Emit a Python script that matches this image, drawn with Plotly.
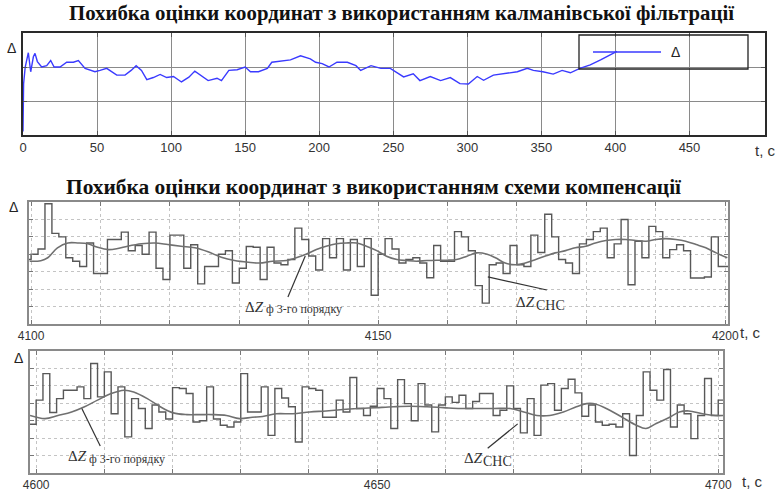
import plotly.graph_objects as go

# ---------------- data ----------------
kalman_t = [0, 0.4, 1.5, 3.6, 5.2, 7.0, 8.1, 9.7, 12.6, 16, 18.7, 21, 25, 29.5, 34, 37.4, 41.9, 48.6,
            52, 56.5, 63.3, 68.9, 73, 76.4, 80, 83.6, 88, 92.6, 97, 101.6, 107, 112, 116, 119.6,
            125, 131, 134, 139, 144.6, 150, 153.6, 159, 165, 168, 175, 180.6, 187.4, 194, 197.6,
            202, 206.6, 212, 219, 224.8, 228, 235, 241.6, 248, 257, 263.5, 268, 275, 282, 288.5,
            295, 300.7, 306.7, 311, 317.6, 327, 333.8, 340.5, 344.6, 351, 358, 364, 369.6, 376,
            383, 390, 396.6, 401]
kalman_err = [0.1, 1.5, 2.0, 2.42, 1.86, 2.3, 2.4, 2.16, 2.0, 2.04, 2.19, 2.0, 2.0, 2.14, 2.14, 2.19,
              1.96, 1.86, 1.9, 1.96, 1.76, 1.76, 1.9, 2.04, 1.9, 1.63, 1.69, 1.78, 1.69, 1.72, 1.56,
              1.7, 1.88, 1.76, 1.6, 1.67, 1.6, 1.9, 1.92, 2.0, 1.86, 1.86, 1.96, 2.14, 2.17, 2.21,
              2.33, 2.24, 2.14, 2.1, 2.0, 2.14, 2.14, 2.04, 1.9, 2.04, 1.96, 1.96, 1.71, 1.8, 1.6,
              1.72, 1.6, 1.69, 1.51, 1.5, 1.72, 1.61, 1.76, 1.81, 1.86, 1.96, 1.9, 1.86, 1.79, 1.9,
              1.83, 1.96, 2.06, 2.21, 2.36, 2.46]

mid_start = 4099
mid_steps = [3.7, 4.0, 4.3, 6.9, 5.2, 5.0, 3.8, 3.6, 3.3, 4.65, 2.9,
             2.9, 4.85, 4.85, 5.27, 4.2, 4.5, 4.0, 5.27, 3.2, 2.55,
             5.1, 5.1, 3.2, 4.55, 2.3, 3.3, 3.3, 4.0, 4.2, 2.35,
             3.2, 4.45, 4.4, 2.55, 4.4, 3.5, 3.4, 3.7, 5.5, 4.85,
             3.9, 3.1, 4.9, 3.8, 4.9, 3.1, 4.85, 3.3, 4.9, 1.65,
             4.0, 4.9, 4.3, 3.5, 3.7, 3.8, 3.5, 2.65, 4.5, 3.6,
             3.6, 5.3, 5.0, 4.2, 2.2, 1.2, 3.4, 3.5, 2.9, 4.5,
             3.4, 3.3, 5.1, 4.1, 6.3, 5.0, 3.7, 3.5, 2.9, 4.6,
             4.85, 5.3, 5.5, 3.8, 4.6, 6.0, 2.25, 4.75, 3.8, 5.6,
             5.3, 3.8, 4.27, 4.55, 4.2, 2.64, 2.64, 2.7, 5.0, 3.3]
mid_smooth_t = [4099.8, 4101.4, 4102.4, 4103.8, 4105.3, 4106.7, 4108.2, 4109.6, 4111.1, 4112.5,
                4113.9, 4115.9, 4117.8, 4119.7, 4121.6, 4123.6, 4125.5, 4127.4, 4129.3, 4131.3,
                4132.9, 4134.8, 4136.8, 4138.2, 4139.6, 4141.1, 4142.5, 4144.0, 4145.4, 4146.9,
                4148.3, 4149.8, 4151.2, 4152.7, 4154.1, 4155.5, 4157.0, 4158.4, 4159.9, 4161.3,
                4162.8, 4164.2, 4165.7, 4166.9, 4168.3, 4169.8, 4171.2, 4172.7, 4174.1, 4175.5,
                4177.0, 4178.4, 4179.9, 4181.3, 4182.8, 4184.2, 4185.7, 4187.1, 4188.6, 4190.0,
                4191.4, 4192.9, 4194.3, 4195.8, 4197.2, 4198.7, 4200.3]
mid_smooth_v = [3.6, 3.63, 3.8, 4.37, 4.65, 4.65, 4.6, 4.4, 4.27, 4.33,
                4.46, 4.6, 4.65, 4.56, 4.46, 4.37, 4.14, 3.83, 3.64, 3.54,
                3.5, 3.6, 3.64, 3.8, 4.0, 4.27, 4.46, 4.6, 4.65, 4.65,
                4.46, 4.21, 3.89, 3.7, 3.64, 3.6, 3.64, 3.66, 3.66, 3.7,
                3.89, 4.08, 4.0, 3.8, 3.5, 3.4, 3.5, 3.7, 3.9, 4.08,
                4.21, 4.37, 4.46, 4.65, 4.79, 4.85, 4.85, 4.79, 4.75, 4.85,
                4.9, 4.85, 4.75, 4.56, 4.37, 4.08, 3.8]

bot_start = 4599
bot_steps = [2.8, 4.18, 5.7, 3.47, 4.27, 4.75, 4.75, 4.94, 4.27, 6.28, 4.37,
             5.8, 3.4, 4.94, 2.07, 4.27, 3.7, 2.55, 3.9, 3.5, 3.1,
             4.9, 4.85, 4.56, 2.93, 3.0, 4.94, 3.1, 2.74, 2.64, 2.93,
             5.7, 3.5, 3.5, 4.94, 2.16, 4.85, 4.3, 3.8, 1.78, 4.94,
             4.85, 4.75, 3.2, 3.2, 4.18, 3.5, 5.48, 3.7, 3.3, 3.83,
             4.85, 4.27, 2.55, 5.36, 3.98, 3.0, 5.13, 3.9, 2.36, 3.9,
             4.37, 4.05, 4.46, 3.7, 4.1, 4.56, 4.56, 3.3, 3.6, 5.0,
             3.7, 2.3, 4.27, 2.16, 5.04, 5.13, 3.6, 4.85, 5.38, 4.6,
             3.26, 3.9, 2.93, 2.74, 2.8, 2.64, 3.4, 1.0, 3.3, 5.8,
             4.75, 4.18, 5.94, 2.64, 3.9, 3.4, 1.97, 3.3, 5.42, 3.3, 4.18]
bot_smooth_t = [4599.1, 4601.3, 4603.2, 4605.2, 4607.1, 4609.0, 4611.0, 4612.9, 4614.3, 4616.3,
                4618.2, 4620.1, 4622.1, 4624.0, 4625.9, 4627.9, 4629.8, 4631.7, 4633.2, 4635.2,
                4637.6, 4640.1, 4642.5, 4645.0, 4647.5, 4649.9, 4652.4, 4654.8, 4657.3, 4659.7,
                4662.2, 4664.6, 4667.1, 4669.5, 4671.5, 4673.4, 4675.3, 4677.3, 4679.2, 4680.7,
                4682.1, 4684.1, 4686.0, 4688.0, 4689.4, 4690.9, 4692.8, 4694.3, 4695.7, 4697.7,
                4699.6, 4700.7]
bot_smooth_v = [3.3, 3.12, 3.3, 3.5, 3.8, 4.18, 4.56, 4.75, 4.65, 4.27,
                3.8, 3.45, 3.35, 3.35, 3.35, 3.3, 3.12, 3.2, 3.24, 3.4,
                3.4, 3.5, 3.56, 3.64, 3.7, 3.75, 3.8, 3.83, 3.8, 3.75,
                3.7, 3.7, 3.7, 3.7, 3.5, 3.3, 3.3, 3.5, 3.8, 3.98,
                3.95, 3.6, 3.18, 2.74, 2.55, 2.84, 3.18, 3.5, 3.56, 3.4,
                3.3, 3.3]

top_ticks = [0, 50, 100, 150, 200, 250, 300, 350, 400, 450]
mid_ticks = list(range(4100, 4201, 10))
mid_labels = ["4100" if t == 4100 else "4150" if t == 4150 else "4200" if t == 4200 else "" for t in mid_ticks]
bot_ticks = list(range(4600, 4701, 10))
bot_labels = ["4600" if t == 4600 else "4650" if t == 4650 else "4700" if t == 4700 else "" for t in bot_ticks]

title_top = "Похибка оцінки координат з використанням калманівської фільтрації"
title_bot = "Похибка оцінки координат з використанням схеми компенсації"

# ---------------- layout helpers ----------------
W, H = 782, 494
def px(x):
    return x / W
def py(y):
    return 1 - y / H

top_range = [0, 501]
mid_range = [4099.7, 4200.4]
bot_range = [4599.1, 4700.7]

fig = go.Figure()

fig.add_trace(go.Scatter(x=kalman_t, y=kalman_err, mode="lines",
                         line=dict(color="#3a3aff", width=1.4), xaxis="x", yaxis="y",
                         showlegend=False, name="Δ"))

mid_x = [mid_start + i for i in range(len(mid_steps))] + [mid_range[1]]
mid_y = mid_steps + [mid_steps[-1]]
fig.add_trace(go.Scatter(x=mid_x, y=mid_y, mode="lines", line_shape="hv",
                         line=dict(color="#585858", width=1.4), xaxis="x2", yaxis="y2",
                         showlegend=False))
fig.add_trace(go.Scatter(x=mid_smooth_t, y=mid_smooth_v, mode="lines", line_shape="spline",
                         line=dict(color="#707070", width=1.6), xaxis="x2", yaxis="y2",
                         showlegend=False))

bot_x = [bot_start + i for i in range(len(bot_steps))] + [bot_range[1]]
bot_y = bot_steps + [bot_steps[-1]]
fig.add_trace(go.Scatter(x=bot_x, y=bot_y, mode="lines", line_shape="hv",
                         line=dict(color="#585858", width=1.4), xaxis="x3", yaxis="y3",
                         showlegend=False))
fig.add_trace(go.Scatter(x=bot_smooth_t, y=bot_smooth_v, mode="lines", line_shape="spline",
                         line=dict(color="#707070", width=1.6), xaxis="x3", yaxis="y3",
                         showlegend=False))

tickfont = dict(family="Arial, Liberation Sans", size=13, color="#333333")
tickfont2 = dict(family="Arial, Liberation Sans", size=12, color="#333333")

common_top = dict(showline=True, mirror="allticks", linecolor="#2a2a2a", linewidth=1.5,
                  showgrid=True, gridcolor="#8a8a8a", gridwidth=1, zeroline=False,
                  ticks="inside", ticklen=4, tickcolor="#555555", automargin=False)
common_low = dict(showline=True, mirror="allticks", linecolor="#8a8a8a", linewidth=1.5,
                  showgrid=True, gridcolor="#c4c4c4", gridwidth=1, griddash="dot",
                  zeroline=False, ticks="inside", ticklen=4, tickcolor="#777777",
                  automargin=False)

fig.update_layout(
    width=W, height=H, margin=dict(l=0, r=0, t=0, b=0, autoexpand=False),
    paper_bgcolor="white", plot_bgcolor="white", showlegend=False,
    xaxis=dict(domain=[px(23), px(765)], range=top_range, tickvals=top_ticks,
               tickfont=tickfont, anchor="y", **common_top),
    yaxis=dict(domain=[py(135), py(33)], range=[0, 3], tickvals=[1, 2],
               showticklabels=False, anchor="x", **common_top),
    xaxis2=dict(domain=[px(29), px(728)], range=mid_range, tickvals=mid_ticks,
                ticktext=mid_labels, tickfont=tickfont2, anchor="y2", **common_low),
    yaxis2=dict(domain=[py(324), py(202)], range=[0, 7], tickvals=[1, 2, 3, 4, 5, 6],
                showticklabels=False, anchor="x2", **common_low),
    xaxis3=dict(domain=[px(30), px(723)], range=bot_range, tickvals=bot_ticks,
                ticktext=bot_labels, tickfont=tickfont2, anchor="y3", **common_low),
    yaxis3=dict(domain=[py(473), py(351)], range=[0, 7], tickvals=[1, 2, 3, 4, 5, 6],
                showticklabels=False, anchor="x3", **common_low),
)

# legend box of the top chart
fig.add_shape(type="rect", xref="paper", yref="paper", x0=px(579), x1=px(748),
              y0=py(69), y1=py(35), line=dict(color="#222222", width=1.3),
              fillcolor="rgba(255,255,255,0)", layer="above")
fig.add_shape(type="line", xref="paper", yref="paper", x0=px(593), x1=px(661),
              y0=py(52), y1=py(52), line=dict(color="#3a3aff", width=1.4), layer="above")

serif = "Times New Roman, Liberation Serif, serif"
sans = "Arial, Liberation Sans, sans-serif"
ann = []
def paper_text(text, x, y, font):
    ann.append(dict(text=text, x=px(x), y=py(y), xref="paper", yref="paper", showarrow=False,
                    xanchor="center", yanchor="middle", font=font))

paper_text("<b>" + title_top + "</b>", 401, 13, dict(family=serif, size=20.8, color="#111111"))
paper_text("<b>" + title_bot + "</b>", 374, 187, dict(family=serif, size=21.4, color="#111111"))
paper_text("Δ", 675, 52, dict(family=sans, size=14, color="#222222"))
for (x, y) in [(11, 48), (13, 207), (18, 358)]:
    paper_text("Δ", x, y, dict(family=sans, size=14, color="#222222"))
for (x, y) in [(765, 150), (750, 332), (752, 481)]:
    paper_text("t, c", x, y, dict(family=sans, size=15, color="#333333"))

# curve labels (middle panel)
ann.append(dict(text="Δ<i>Z</i>", x=4130.5, y=1.0, xref="x2", yref="y2", xanchor="left",
                showarrow=False, font=dict(family=serif, size=15, color="#333333")))
ann.append(dict(text="ф 3-го порядку", x=4133.6, y=0.88, xref="x2", yref="y2", xanchor="left",
                showarrow=False, font=dict(family=serif, size=12, color="#333333")))
ann.append(dict(text="Δ<i>Z</i>", x=4169.6, y=1.27, xref="x2", yref="y2", xanchor="left",
                showarrow=False, font=dict(family=serif, size=15, color="#333333")))
ann.append(dict(text="CHC", x=4172.5, y=1.08, xref="x2", yref="y2", xanchor="left",
                showarrow=False, font=dict(family=serif, size=14, color="#333333")))
# curve labels (bottom panel)
ann.append(dict(text="Δ<i>Z</i>", x=4604.4, y=0.95, xref="x3", yref="y3", xanchor="left",
                showarrow=False, font=dict(family=serif, size=15, color="#333333")))
ann.append(dict(text="ф 3-го порядку", x=4607.5, y=0.83, xref="x3", yref="y3", xanchor="left",
                showarrow=False, font=dict(family=serif, size=12, color="#333333")))
ann.append(dict(text="Δ<i>Z</i>", x=4662.4, y=0.86, xref="x3", yref="y3", xanchor="left",
                showarrow=False, font=dict(family=serif, size=15, color="#333333")))
ann.append(dict(text="CHC", x=4665.2, y=0.65, xref="x3", yref="y3", xanchor="left",
                showarrow=False, font=dict(family=serif, size=14, color="#333333")))
fig.update_layout(annotations=ann)

# leader lines
for (xr, yr, x0, y0, x1, y1) in [("x2", "y2", 4137.0, 1.55, 4139.5, 3.9),
                                 ("x2", "y2", 4165.8, 2.7, 4174.3, 1.95),
                                 ("x3", "y3", 4606.7, 3.7, 4609.4, 1.55),
                                 ("x3", "y3", 4670.6, 2.82, 4666.2, 1.42)]:
    fig.add_shape(type="line", xref=xr, yref=yr, x0=x0, y0=y0, x1=x1, y1=y1,
                  line=dict(color="#333333", width=1.2), layer="above")

fig.write_html("out.html", config={"displayModeBar": False},
               post_script="document.body.style.margin='0';document.body.style.padding='0';")
